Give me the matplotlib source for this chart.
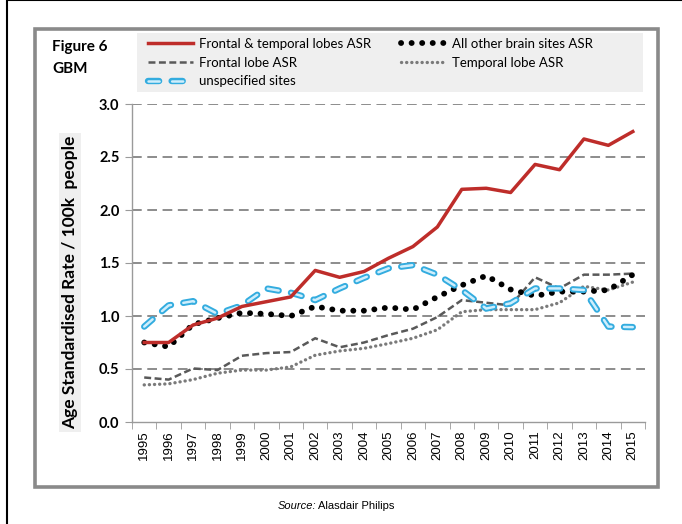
import matplotlib
matplotlib.use("Agg")
import matplotlib.pyplot as plt
from matplotlib.patches import Rectangle
from matplotlib.lines import Line2D
import numpy as np

plt.rcParams['lines.scale_dashes'] = False

years = [str(y) for y in range(1995, 2016)]
frontal_temporal = [0.75, 0.75, 0.915, 0.98, 1.09, 1.135, 1.18, 1.43, 1.365, 1.42,
                    1.545, 1.655, 1.84, 2.195, 2.205, 2.165, 2.43, 2.38, 2.67, 2.61, 2.74]
all_other = [0.75, 0.71, 0.92, 0.98, 1.03, 1.02, 1.00, 1.09, 1.05, 1.05,
             1.08, 1.06, 1.18, 1.29, 1.38, 1.25, 1.19, 1.23, 1.23, 1.245, 1.39]
frontal = [0.42, 0.40, 0.505, 0.49, 0.625, 0.65, 0.66, 0.79, 0.705, 0.75,
           0.82, 0.88, 0.99, 1.15, 1.125, 1.10, 1.365, 1.26, 1.39, 1.39, 1.40]
temporal = [0.35, 0.36, 0.40, 0.46, 0.49, 0.49, 0.52, 0.63, 0.67, 0.695,
            0.74, 0.79, 0.87, 1.04, 1.06, 1.06, 1.06, 1.125, 1.28, 1.245, 1.32]
unspecified = [0.90, 1.10, 1.14, 1.02, 1.10, 1.26, 1.22, 1.15, 1.26, 1.36,
               1.45, 1.48, 1.39, 1.245, 1.07, 1.12, 1.26, 1.26, 1.245, 0.90, 0.895]
yticks = [0.0, 0.5, 1.0, 1.5, 2.0, 2.5, 3.0]

W, H = 682, 524
fig = plt.figure(figsize=(W/100, H/100), dpi=100)

def fx(px): return px / W
def fy(py): return 1 - py / H

# frames
fig.patches.append(Rectangle((fx(7), fy(530)), fx(700), 530/H, transform=fig.transFigure,
                             fill=False, edgecolor='black', lw=1.5, zorder=0))
fig.patches.append(Rectangle((fx(35), fy(487)), fx(658-35), (487-29)/H, transform=fig.transFigure,
                             fill=False, edgecolor='#8a8a8a', lw=2.6, zorder=0))
# legend background
fig.patches.append(Rectangle((fx(137), fy(92)), fx(643-137), (92-33)/H, transform=fig.transFigure,
                             facecolor='#efefef', edgecolor='none', zorder=0))

ax = fig.add_axes([fx(132), fy(422), fx(645-132), (422-104)/H])
x = np.arange(len(years))

RED = '#be2d2a'
BLUE_O, BLUE_I = '#33acdf', '#cfeefc'
ax.plot(x, frontal, color='#595959', lw=1.8, dashes=(5, 2.5), zorder=3)
ax.plot(x, temporal, color='#7a7a7a', lw=2.4, dashes=(0.1, 3.6), dash_capstyle='round', zorder=3)
ax.plot(x, all_other, color='black', lw=4.2, dashes=(0.1, 7.5), dash_capstyle='round', zorder=4)
ax.plot(x, frontal_temporal, color=RED, lw=2.5, zorder=5)
ax.plot(x, unspecified, color=BLUE_O, lw=4.6, dashes=(8, 9), dash_capstyle='round', zorder=4)
ax.plot(x, unspecified, color=BLUE_I, lw=1.8, dashes=(8, 9), dash_capstyle='round', zorder=4)

h_red = Line2D([], [], color=RED, lw=2.5)
h_fr = Line2D([], [], color='#595959', lw=1.8, dashes=(5, 2.5))
h_bl_o = Line2D([], [], color=BLUE_O, lw=4.6, dashes=(8, 9), dash_capstyle='round')
h_bl_i = Line2D([], [], color=BLUE_I, lw=1.8, dashes=(8, 9), dash_capstyle='round')
h_blk = Line2D([], [], color='black', lw=4.2, dashes=(0.1, 7.5), dash_capstyle='round')
h_tmp = Line2D([], [], color='#7a7a7a', lw=2.4, dashes=(0.1, 3.6), dash_capstyle='round')
leg = fig.legend([h_red, h_fr, (h_bl_o, h_bl_i), h_blk, h_tmp],
                 ['Frontal & temporal lobes ASR', 'Frontal lobe ASR', 'unspecified sites',
                  'All other brain sites ASR', 'Temporal lobe ASR'],
                 ncol=2, loc='upper left', bbox_to_anchor=(fx(148), fy(38)), frameon=False,
                 prop={'family': 'Lato', 'size': 9.5}, handlelength=3.4, handletextpad=0.5,
                 columnspacing=2.2, labelspacing=0.5, borderpad=0.0, borderaxespad=0)

ax.set_xlim(-0.5, len(years) - 0.5)
ax.set_ylim(0, 3.0)
ax.set_yticks(yticks)
ax.set_yticklabels([f'{v:.1f}' for v in yticks], fontfamily='Lato', fontweight='bold', fontsize=10.5)
for v in yticks[1:]:
    ax.axhline(v, color='#6e6e6e', lw=1.1, dashes=(7, 4), zorder=1)

ax.set_xticks(x)
ax.set_xticklabels(years, rotation=90, fontfamily='Liberation Sans', fontsize=9.5, va='top')
ax.set_xticks(np.arange(len(years) + 1) - 0.5, minor=True)
ax.tick_params(axis='x', which='major', length=0, pad=6)
ax.tick_params(axis='x', which='minor', length=5, color='#9a9a9a', direction='out')
ax.tick_params(axis='y', length=5, color='#9a9a9a', pad=4)

for s in ['top', 'right']:
    ax.spines[s].set_visible(False)
for s in ['left', 'bottom']:
    ax.spines[s].set_color('#9a9a9a')
    ax.spines[s].set_linewidth(1.0)

ax.set_ylabel('Age Standardised Rate / 100k  people', fontfamily='Lato', fontweight='bold',
              fontsize=12.5, bbox=dict(facecolor='#efefef', edgecolor='none', pad=2))
ax.yaxis.set_label_coords(-0.105, 0.44)

fig.text(fx(52), fy(47), 'Figure 6', fontfamily='Lato', fontweight='bold', fontsize=11, va='center')
fig.text(fx(52), fy(69), 'GBM', fontfamily='Lato', fontweight='bold', fontsize=11, va='center')

fig.text(fx(316), fy(506), 'Source:', fontfamily='Liberation Sans', style='italic', fontsize=8,
         ha='right', va='center')
fig.text(fx(318), fy(506), 'Alasdair Philips', fontfamily='Liberation Sans', fontsize=8,
         ha='left', va='center')

fig.savefig('out.png', dpi=100)
